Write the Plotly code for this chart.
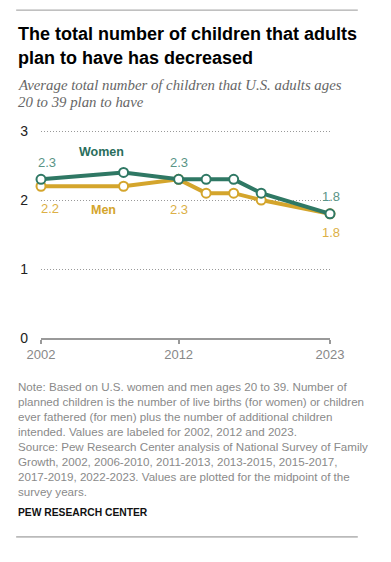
import plotly.graph_objects as go

# ---- data ----
years = [2002, 2008, 2012, 2014, 2016, 2018, 2023]
women = [2.3, 2.4, 2.3, 2.3, 2.3, 2.1, 1.8]
men = [2.2, 2.2, 2.3, 2.1, 2.1, 2.0, 1.8]
labeled_years = [2002, 2012, 2023]
y_ticks = [0, 1, 2, 3]
x_ticks = [2002, 2012, 2023]

title_lines = ["The total number of children that adults", "plan to have has decreased"]
subtitle_lines = ["Average total number of children that U.S. adults ages", "20 to 39 plan to have"]
note_lines = [
    "Note: Based on U.S. women and men ages 20 to 39. Number of",
    "planned children is the number of live births (for women) or children",
    "ever fathered (for men) plus the number of additional children",
    "intended. Values are labeled for 2002, 2012 and 2023.",
    "Source: Pew Research Center analysis of National Survey of Family",
    "Growth, 2002, 2006-2010, 2011-2013, 2013-2015, 2015-2017,",
    "2017-2019, 2022-2023. Values are plotted for the midpoint of the",
    "survey years.",
]
source_label = "PEW RESEARCH CENTER"

# ---- layout geometry (page pixels; the page body adds an 8px offset) ----
OFF = 8
W, H = 391 - OFF, 562 - OFF
Y_TOP_EXTRA = 0.03
L, R, B = 39 - OFF, 330 - OFF, 338 - OFF
UNIT = (338 - 131) / 3.0
T = B - UNIT * (3 + Y_TOP_EXTRA)
ML, MR, MT, MB = L, W - R, T, H - B
PW, PH = R - L, B - T


def px(x):
    return (x - OFF - L) / PW


def py(y):
    return (B - (y - OFF)) / PH


GREEN = "#2f7864"
GOLD = "#d4a52c"
GREEN_LBL = "#5a9486"
GOLD_LBL = "#dcb046"
FONT = "Liberation Sans"

fig = go.Figure()
fig.add_trace(go.Scatter(
    x=years, y=men, mode="lines+markers", name="Men",
    line=dict(color=GOLD, width=4),
    marker=dict(size=9, color="white", line=dict(color=GOLD, width=2)),
    cliponaxis=False, hoverinfo="skip"))
fig.add_trace(go.Scatter(
    x=years, y=women, mode="lines+markers", name="Women",
    line=dict(color=GREEN, width=4),
    marker=dict(size=9, color="white", line=dict(color=GREEN, width=2)),
    cliponaxis=False, hoverinfo="skip"))

ann = []
# value labels
w_shift = {2002: (6, 17), 2012: (0, 17), 2023: (1, 17)}
m_shift = {2002: (9, -22), 2012: (0, -30), 2023: (1, -19)}
for yr in labeled_years:
    i = years.index(yr)
    ann.append(dict(x=yr, y=women[i], xref="x", yref="y", text=f"{women[i]:.1f}",
                    xanchor="center", yanchor="middle",
                    showarrow=False, xshift=w_shift[yr][0], yshift=w_shift[yr][1],
                    font=dict(family=FONT, size=13, color=GREEN_LBL)))
    ann.append(dict(x=yr, y=men[i], xref="x", yref="y", text=f"{men[i]:.1f}",
                    xanchor="center", yanchor="middle",
                    showarrow=False, xshift=m_shift[yr][0], yshift=m_shift[yr][1],
                    font=dict(family=FONT, size=13, color=GOLD_LBL)))

# series names
ann.append(dict(x=px(100), y=py(152), xref="paper", yref="paper", text="<b>Women</b>",
                xanchor="center", yanchor="middle",
                showarrow=False, font=dict(family=FONT, size=12.5, color="#2a6e5c")))
ann.append(dict(x=px(102), y=py(210), xref="paper", yref="paper", text="<b>Men</b>",
                xanchor="center", yanchor="middle",
                showarrow=False, font=dict(family=FONT, size=12.5, color=GOLD)))

# title
for k, t in enumerate(title_lines):
    ann.append(dict(x=px(14), y=py(34 + 24 * k), xref="paper", yref="paper", text=f"<b>{t}</b>",
                    xanchor="left", yanchor="middle", showarrow=False,
                    font=dict(family=FONT, size=18, color="#000")))
for k, t in enumerate(subtitle_lines):
    ann.append(dict(x=px(14), y=py(84.5 + 17.5 * k), xref="paper", yref="paper", text=f"<i>{t}</i>",
                    xanchor="left", yanchor="middle", showarrow=False,
                    font=dict(family="Liberation Serif", size=14.8, color="#666")))
for k, t in enumerate(note_lines):
    ann.append(dict(x=px(14), y=py(387 + 15 * k), xref="paper", yref="paper", text=t,
                    xanchor="left", yanchor="middle", showarrow=False,
                    font=dict(family=FONT, size=11.6, color="#8a8a8a")))
ann.append(dict(x=px(14), y=py(513), xref="paper", yref="paper", text=f"<b>{source_label}</b>",
                xanchor="left", yanchor="middle", showarrow=False,
                font=dict(family=FONT, size=10.3, color="#111")))

shapes = [
    dict(type="line", xref="paper", yref="paper", x0=px(14), x1=px(358), y0=py(10), y1=py(10),
         line=dict(color="#999", width=1)),
    dict(type="line", xref="paper", yref="paper", x0=px(14), x1=px(358), y0=py(537), y1=py(537),
         line=dict(color="#888", width=1)),
]

fig.update_layout(
    width=W, height=H, margin=dict(l=ML, r=MR, t=MT, b=MB, pad=0),
    paper_bgcolor="white", plot_bgcolor="white", showlegend=False,
    annotations=ann, shapes=shapes,
    xaxis=dict(range=[2002, 2023], tickvals=x_ticks, ticktext=[str(v) for v in x_ticks],
               showgrid=False, zeroline=False, showline=True, linecolor="#999", linewidth=1.5,
               ticks="outside", ticklen=4, tickcolor="#999", tickwidth=1.5,
               tickfont=dict(family=FONT, size=13, color="#888")),
    yaxis=dict(range=[0, 3 + Y_TOP_EXTRA], tickvals=y_ticks, showgrid=True, gridcolor="#999",
               griddash="1px,2px", gridwidth=1, zeroline=False, showline=False, ticks="",
               ticklabelstandoff=12,
               tickfont=dict(family=FONT, size=14, color="#222")),
)

fig.write_html("out.html")
